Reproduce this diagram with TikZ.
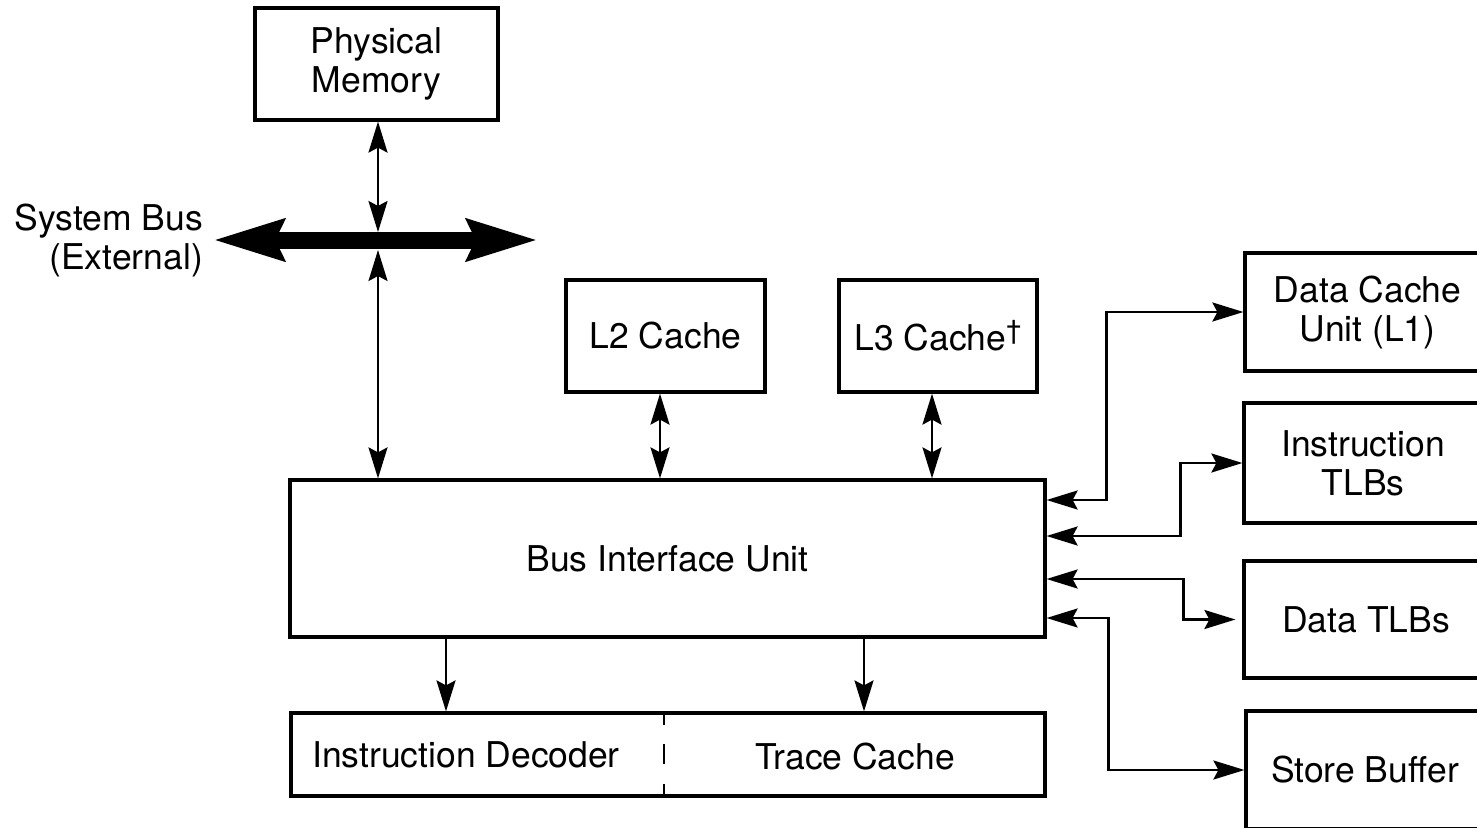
\documentclass[tikz,border=0pt]{standalone}
\usepackage{fontspec}
\setmainfont{TeX Gyre Heros}
\usetikzlibrary{arrows.meta}

\tikzset{
  blk/.style={draw, line width=3.2pt, inner sep=0pt, align=center},
  lbl/.style={inner sep=0pt, align=center},
  link/.style={line width=2.4pt, {Stealth[length=31pt, width=19pt, inset=5pt]}-{Stealth[length=31pt, width=19pt, inset=5pt]}},
  feed/.style={line width=2.4pt, -{Stealth[length=31pt, width=19pt, inset=5pt]}},
  bus/.style={line width=17pt, {Stealth[length=70pt, width=40pt, inset=8pt]}-{Stealth[length=70pt, width=40pt, inset=8pt]}},
}

\begin{document}
\begin{tikzpicture}[x=1pt, y=-1pt, font=\fontsize{35.5}{39}\selectfont]
\useasboundingbox (0,0) rectangle (1477,827);
\clip (0,0) rectangle (1477,827);

% memory and the external bus
\node[blk, minimum width=243pt, minimum height=112pt] (pm) at (376.5,64) {Physical\\Memory};
\coordinate (busL) at (213,240);
\coordinate (busR) at (538,240);
\coordinate (busTop) at (378,232);
\coordinate (busBot) at (378,250);
\draw[bus] (busL) -- (busR);
\node[lbl, anchor=east, align=right] (buslbl) at (203,240) {System Bus\\(External)};

% caches above the bus interface unit
\node[blk, minimum width=199pt, minimum height=112pt] (l2) at (665.5,336) {L2 Cache};
\node[blk, minimum width=198pt, minimum height=112pt] (l3) at (938,336) {L3 Cache\raisebox{0.3em}{\fontsize{27}{27}\selectfont\textdagger}};

% bus interface unit
\node[blk, minimum width=755pt, minimum height=157pt] (biu) at (667.5,558.5) {Bus Interface Unit};

% front end: decoder and trace cache
\node[blk, minimum width=754pt, minimum height=83pt] (fe) at (668,754.5) {};
\node[lbl] (dec) at (466,755) {Instruction Decoder};
\node[lbl] (tc) at (855,757) {Trace Cache};
\coordinate (divTop) at (664,713);
\coordinate (divBot) at (664,796);
\draw[line width=2pt, dash pattern={on 12pt off 19pt on 20pt off 20pt on 12pt}] (divTop) -- (divBot);

% units on the right
\node[blk, minimum width=245pt, minimum height=118pt] (dcu) at (1367.5,312) {Data Cache\\Unit (L1)};
\node[blk, minimum width=238pt, minimum height=120pt] (itlb) at (1363,463) {Instruction\\TLBs};
\node[blk, minimum width=244pt, minimum height=117pt] (dtlb) at (1366,619.5) {Data TLBs};
\node[blk, minimum width=238pt, minimum height=118pt] (sb) at (1365,770) {Store Buffer};

% vertical connectors
\draw[link] (pm.south -| busTop) -- (busTop);
\draw[link] (busBot) -- (busBot |- biu.north);
\draw[link] ([xshift=-5.5pt]l2.south) -- ([xshift=-5.5pt]l2.south |- biu.north);
\draw[link] ([xshift=-6pt]l3.south) -- ([xshift=-6pt]l3.south |- biu.north);
\draw[feed] ([xshift=-221.5pt]biu.south) -- ([xshift=-221.5pt]biu.south |- fe.north);
\draw[feed] ([xshift=196.5pt]biu.south) -- ([xshift=196.5pt]biu.south |- fe.north);

% connectors to the right-hand units
\draw[link] ([yshift=58.5pt]biu.east) -- ++(60,0) |- (dcu.west);
\draw[link] ([yshift=22.5pt]biu.east) -- ++(134,0) |- (itlb.west);
\draw[link, shorten >=7pt] ([yshift=-20.5pt]biu.east) -- ++(137,0) |- (dtlb.west);
\draw[link] ([yshift=-59.5pt]biu.east) -- ++(62,0) |- (sb.west);
\end{tikzpicture}
\end{document}
